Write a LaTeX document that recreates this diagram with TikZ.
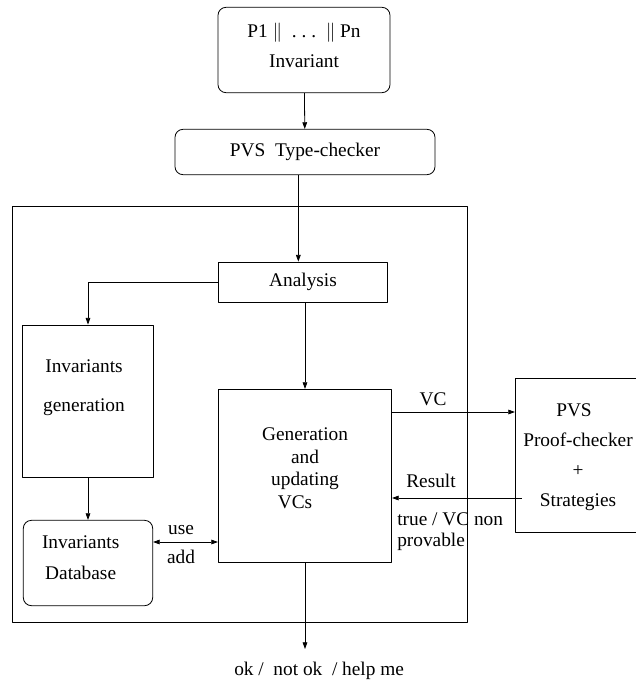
\documentclass[tikz,border=0pt]{standalone}
\usepackage{fontspec}
\setmainfont{Liberation Serif}
\usetikzlibrary{arrows.meta}
\tikzset{
  box/.style={draw, line width=0.6pt, align=center, inner sep=0pt},
  rbox/.style={box, rounded corners=6pt},
  lbl/.style={inner sep=0pt, align=left}
}
\begin{document}
\begin{tikzpicture}[x=0.75pt, y=-0.75pt, font=\fontsize{14.5pt}{17pt}\selectfont, line join=round, >={Stealth[length=5pt,width=3.5pt,inset=0pt]}]
            \useasboundingbox (0,0) rectangle (635,684);
            % outer frame
            \draw[line width=0.6pt] (12,206) rectangle (467,622);
            % boxes
            \node[rbox, minimum width=129pt, minimum height=64pt, text depth=6.8pt] (prog) at (304,50) {P1 $\|$\ \ .\ .\ .\ \ $\|$ Pn\\[6pt]Invariant};
            \node[rbox, minimum width=195pt, minimum height=34pt] (tc) at (305,152) {PVS\ \ Type-checker};
            \node[box, minimum width=127pt, minimum height=30pt] (ana) at (303,282) {Analysis};
            \node[box, minimum width=98pt, minimum height=114pt, text depth=23pt] (igen) at (88,401) {Invariants\hspace*{6pt}\\[12pt]generation\hspace*{6pt}};
            \node[rbox, minimum width=97pt, minimum height=64pt, text depth=8pt] (idb) at (88,563) {Invariants\hspace*{11pt}\\[6pt]Database\hspace*{11pt}};
            \node[box, minimum width=130pt, minimum height=130pt, text depth=12pt] (gvc) at (305,476) {Generation\\and\\updating\\VCs\hspace*{15pt}};
            \node[box, minimum width=94pt, minimum height=115pt, text depth=-7.3pt] (pvs) at (578,455.5) {PVS\hspace*{6pt}\\[5.5pt]Proof-checker\\[5.5pt]+\\[5.5pt]Strategies};
            % connectors
            \draw[->, line width=0.6pt] (prog) -- (tc);
            \draw[->, line width=0.6pt] ([xshift=-5]tc.south) -- ([xshift=-5]tc.south |- ana.north);
            \draw[->, line width=0.6pt] (ana.west) -| (igen.north);
            \draw[->, line width=0.6pt] (gvc.north |- ana.south) -- (gvc.north);
            \draw[->, line width=0.6pt] (igen) -- (idb);
            \draw[<->, line width=0.6pt] (idb.east |- 0,542) -- (gvc.west |- 0,542);
            \draw[->, line width=0.6pt] (gvc.east |- 0,412) -- (pvs.west |- 0,412);
            \draw[->, line width=0.6pt] ([xshift=5]pvs.west |- 0,498) -- (gvc.east |- 0,498);
            \coordinate (out) at (305,649);
            \draw[->, line width=0.6pt] (gvc) -- (out);
            % labels
            \node[lbl] (use) at (181,530) {use};
            \node[lbl] (add) at (181,557) {add};
            \node[lbl] (vc) at (433,399) {VC};
            \node[lbl] (res) at (431,481) {Result};
            \node[lbl, anchor=north west] (tv) at (397,512) {true / VC non\\[-1pt]provable};
            \node[lbl, anchor=west] (okl) at (234,671) {ok /\ \ not ok\ \ / help me};
    \end{tikzpicture}
\end{document}
